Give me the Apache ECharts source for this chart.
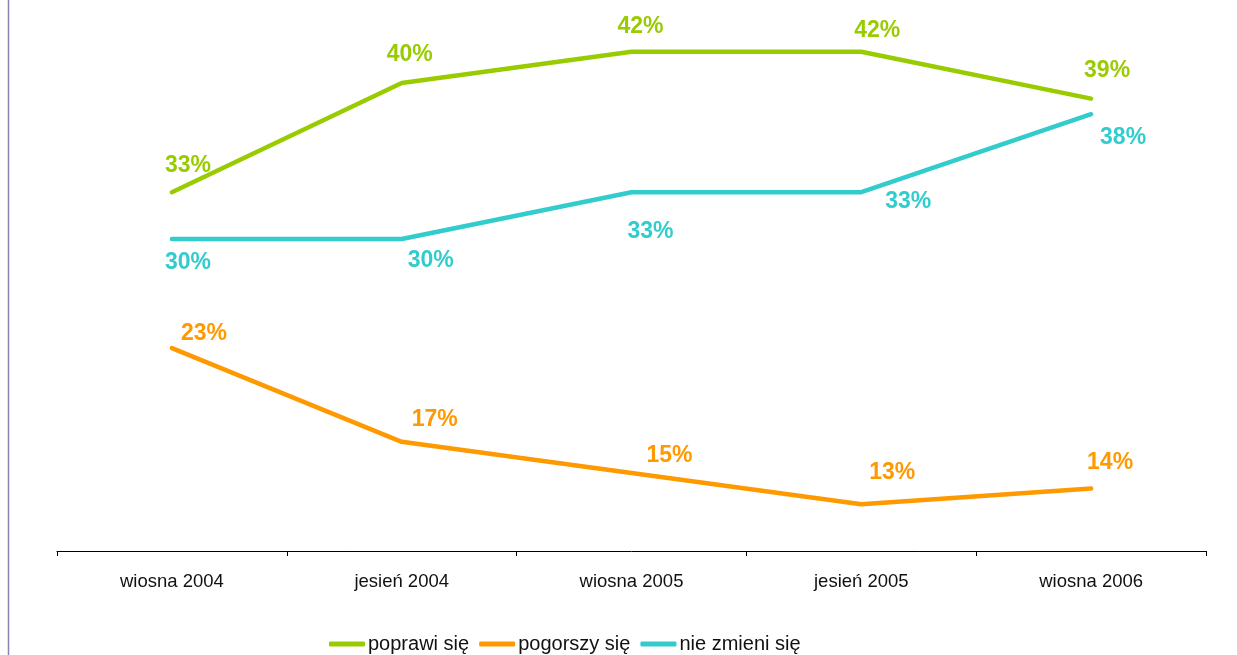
<!DOCTYPE html>
<html>
<head>
<meta charset="utf-8">
<script src="https://cdn.jsdelivr.net/npm/echarts@6/dist/echarts.min.js"></script>
<style>
html,body{margin:0;padding:0;background:#fff;}
#c{width:1237px;height:655px;}
</style>
</head>
<body>
<div id="c"></div>
<script>
const categories = ['wiosna 2004', 'jesień 2004', 'wiosna 2005', 'jesień 2005', 'wiosna 2006'];
const seriesNames = ['poprawi się', 'pogorszy się', 'nie zmieni się'];
const poprawi = [33, 40, 42, 42, 39];
const pogorszy = [23, 17, 15, 13, 14];
const nieZmieni = [30, 30, 33, 33, 38];

// label offsets (layout only): label center relative to point
const offPoprawi = [[16,-27],[8,-28],[9,-25],[16,-21],[16,-28]];
const offPogorszy = [[32,-15],[33,-22],[38,-17],[31,-32],[19,-26]];
const offNie = [[16,24],[29,22],[19,39],[47,9],[32,23]];

const colors = ['#99cc00', '#ff9900', '#33cccc'];

function mk(name, vals, offs, color) {
  return {
    name: name,
    type: 'line',
    symbol: 'circle',
    symbolSize: 1,
    lineStyle: { width: 4.5, color: color, cap: 'round', join: 'round' },
    itemStyle: { color: color },
    data: vals.map((v, i) => ({
      value: v,
      label: { offset: offs[i] }
    })),
    label: {
      show: true,
      position: 'inside',
      formatter: '{c}%',
      color: color,
      fontFamily: 'Liberation Sans, Arial, sans-serif',
      fontWeight: 'bold',
      fontSize: 23
    },
    animation: false
  };
}

const chart = echarts.init(document.getElementById('c'));
chart.setOption({
  animation: false,
  backgroundColor: '#fff',
  grid: { left: 57, right: 31, top: 5, bottom: 104 },
  xAxis: {
    type: 'category',
    data: categories,
    boundaryGap: true,
    axisLine: { lineStyle: { color: '#000', width: 1 } },
    axisTick: { show: true, length: 5, lineStyle: { color: '#000' } },
    axisLabel: {
      color: '#111',
      fontFamily: 'Liberation Sans, Arial, sans-serif',
      fontSize: 18.5,
      margin: 21
    }
  },
  yAxis: {
    type: 'value',
    min: 10,
    max: 45,
    show: false,
    splitLine: { show: false }
  },
  legend: {
    left: 324,
    top: 629,
    icon: 'roundRect',
    itemWidth: 36,
    itemHeight: 5,
    itemGap: 10,
    data: seriesNames,
    textStyle: {
      color: '#111',
      fontFamily: 'Liberation Sans, Arial, sans-serif',
      fontSize: 20,
      padding: [0, 0, 0, -2]
    }
  },
  graphic: [{
    type: 'line',
    shape: { x1: 8.5, y1: 0, x2: 8.5, y2: 655 },
    style: { stroke: '#8585b0', lineWidth: 1.5 }
  }],
  series: [
    mk(seriesNames[0], poprawi, offPoprawi, colors[0]),
    mk(seriesNames[1], pogorszy, offPogorszy, colors[1]),
    mk(seriesNames[2], nieZmieni, offNie, colors[2])
  ]
});
</script>
</body>
</html>
